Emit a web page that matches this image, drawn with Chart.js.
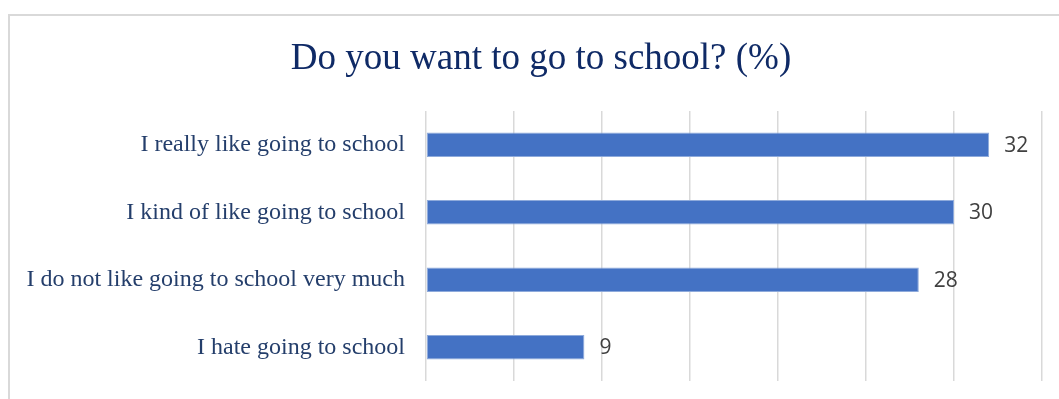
<!DOCTYPE html>
<html>
<head>
<meta charset="utf-8">
<script src="https://cdn.jsdelivr.net/npm/chart.js@4/dist/chart.umd.min.js"></script>
<style>
  html, body { margin: 0; padding: 0; background: #ffffff; }
  #wrap { width: 1059px; height: 399px; position: relative; }
</style>
</head>
<body>
<div id="wrap"><canvas id="c"></canvas></div>
<script>
const chartTitle = 'Do you want to go to school? (%)';
const categories = [
  'I really like going to school',
  'I kind of like going to school',
  'I do not like going to school very much',
  'I hate going to school'
];
const percentages = [32, 30, 28, 9];
const axisMax = 35;
const axisStep = 5;

// Frame around the chart (only its top and left edges fall inside the canvas)
const framePlugin = {
  id: 'frame',
  beforeDraw(chart) {
    const ctx = chart.ctx;
    ctx.save();
    ctx.fillStyle = '#ffffff';
    ctx.fillRect(0, 0, chart.width, chart.height);
    ctx.strokeStyle = '#d9d9d9';
    ctx.lineWidth = 2;
    ctx.strokeRect(9, 15, chart.width + 40, chart.height + 40);
    ctx.restore();
  }
};

// Heading, centred over the framed box
const headingPlugin = {
  id: 'heading',
  afterDraw(chart) {
    const ctx = chart.ctx;
    ctx.save();
    ctx.font = '37px "Liberation Serif", "Times New Roman", serif';
    ctx.fillStyle = '#0f2a66';
    ctx.textAlign = 'center';
    ctx.textBaseline = 'middle';
    ctx.fillText(chartTitle, 541, 59);
    ctx.restore();
  }
};

// Value labels just past the end of each bar
const valueLabelPlugin = {
  id: 'valueLabels',
  afterDatasetsDraw(chart) {
    const ctx = chart.ctx;
    const meta = chart.getDatasetMeta(0);
    const data = chart.data.datasets[0].data;
    ctx.save();
    ctx.font = '21px "Open Sans", sans-serif';
    ctx.fillStyle = '#404040';
    ctx.textAlign = 'left';
    ctx.textBaseline = 'middle';
    meta.data.forEach((bar, i) => {
      ctx.fillText(String(data[i]), bar.x + 15, bar.y + 1);
    });
    ctx.restore();
  }
};

new Chart(document.getElementById('c'), {
  type: 'bar',
  data: {
    labels: categories,
    datasets: [{
      data: percentages,
      backgroundColor: '#4472c4',
      borderColor: '#8eaadb',
      borderWidth: 1,
      borderSkipped: false,
      barPercentage: 0.36,
      categoryPercentage: 1.0
    }]
  },
  options: {
    indexAxis: 'y',
    responsive: true,
    maintainAspectRatio: false,
    devicePixelRatio: 1,
    animation: false,
    layout: { padding: { top: 111, right: 17, bottom: 18, left: 0 } },
    plugins: {
      legend: { display: false },
      title: { display: false },
      tooltip: { enabled: false }
    },
    scales: {
      x: {
        min: 0,
        max: axisMax,
        ticks: { display: false, stepSize: axisStep },
        grid: { color: '#d9d9d9', lineWidth: 1.5, drawTicks: false },
        border: { display: false },
        afterFit(scale) {
          scale.height = 0;
          scale.paddingLeft = scale.paddingRight = 0;
        }
      },
      y: {
        ticks: {
          padding: 21,
          color: '#243e6b',
          font: { family: '"Liberation Serif", "Times New Roman", serif', size: 24 }
        },
        grid: { display: false, drawTicks: false },
        border: { display: false },
        afterFit(scale) {
          scale.width = 426;
          scale.paddingTop = scale.paddingBottom = 0;
        }
      }
    }
  },
  plugins: [framePlugin, headingPlugin, valueLabelPlugin]
});
</script>
</body>
</html>
